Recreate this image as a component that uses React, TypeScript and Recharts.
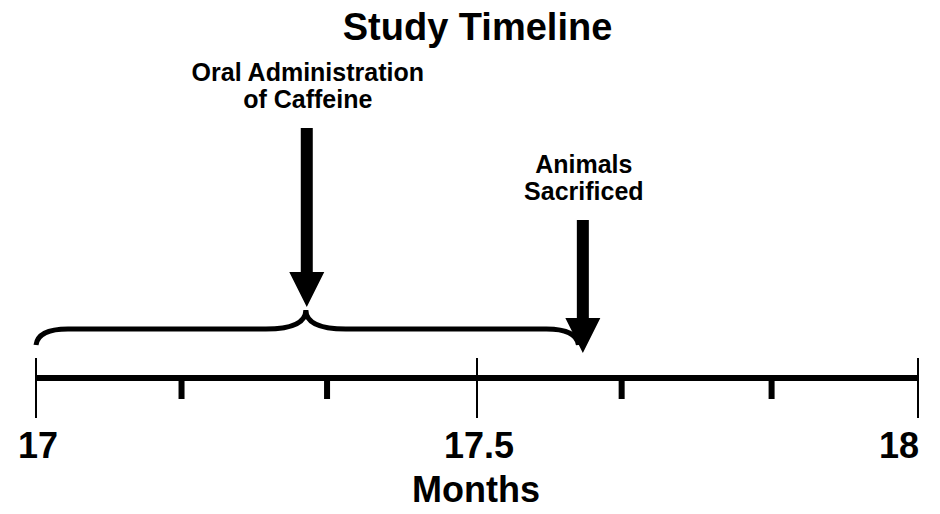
import React from 'react';
import { ComposedChart, XAxis, YAxis, ReferenceLine, ReferenceArea, Scatter } from 'recharts';

// timeline axis (months)
const majorTicks = [17, 17.5, 18];
const minorTicks = [17.165, 17.33, 17.664, 17.834];

// events: month, label lines, arrow top / tip (height above the axis)
const eventMonths = [17.307, 17.62];
const eventLabels = [['Oral Administration', 'of Caffeine'], ['Animals', 'Sacrificed']];
const arrowTops = [250, 158];
const arrowTips = [71, 25];

// brace over the dosing period
const braceStart = 17;
const braceEnd = 17.615;
const braceLow = 33;
const braceHigh = 68;

const FONT = '"Liberation Sans", Arial, sans-serif';

const TimelineTick = (props: any) => {
  const { x, y, payload } = props;
  const v = payload.value;
  if (!majorTicks.includes(v)) {
    return <rect x={x - 3} y={y} width={6} height={21} fill="#000" />;
  }
  const last = v === majorTicks[majorTicks.length - 1];
  return (
    <g>
      <line x1={x} x2={x} y1={y - 20} y2={y + 40} stroke="#000" strokeWidth={2} />
      <text x={last ? x + 1 : x + 2} y={y + 80} textAnchor={last ? 'end' : 'middle'}
        fontFamily={FONT} fontWeight="bold" fontSize={36} fill="#000">{v}</text>
    </g>
  );
};

const Arrow = (props: any) => {
  const { x1, y1, y2, lines } = props;
  const x = x1;
  const hh = 35;
  const d = `M${x - 6},${y1} L${x + 6},${y1} L${x + 6},${y2 - hh} L${x + 17.5},${y2 - hh} L${x},${y2} L${x - 17.5},${y2 - hh} L${x - 6},${y2 - hh} Z`;
  return (
    <g>
      <path d={d} fill="#000" />
      {lines.map((t: string, i: number) => (
        <text key={t} x={x + 1} y={y1 - 20 - (lines.length - 1 - i) * 27} textAnchor="middle"
          fontFamily={FONT} fontWeight="bold" fontSize={25} fill="#000">{t}</text>
      ))}
    </g>
  );
};

const Brace = (props: any) => {
  const { x, y, width, height } = props;
  const left = x;
  const right = x + width;
  const top = y;
  const bottom = y + height;
  const mid = bottom - 16;
  const peak = left + width * 0.4975;
  const d = `M${left},${bottom} Q${left + 2},${mid} ${left + 32},${mid} L${peak - 40},${mid} Q${peak},${mid} ${peak},${top}` +
    ` Q${peak},${mid} ${peak + 40},${mid} L${right - 32},${mid} Q${right - 2},${mid} ${right},${bottom}`;
  return <path d={d} fill="none" stroke="#000" strokeWidth={5} />;
};

const MonthsLabel = (props: any) => {
  const vb = props.viewBox;
  return (
    <text x={vb.x + vb.width / 2 - 1} y={vb.y + 124} textAnchor="middle"
      fontFamily={FONT} fontWeight="bold" fontSize={36} fill="#000">Months</text>
  );
};

const data = eventMonths.map((m, i) => ({ month: m, tip: arrowTips[i] }));

export default function App() {
  return (
    <div style={{ position: 'absolute', left: 0, top: 0, width: 940, height: 514, background: '#fff' }}>
      <div style={{ position: 'absolute', left: 0, top: 8, width: 955, textAlign: 'center', fontFamily: FONT,
        fontWeight: 'bold', fontSize: 38, lineHeight: '38px' }}>Study Timeline</div>
      <ComposedChart width={940} height={514} data={data} margin={{ top: 0, right: 22, bottom: 0, left: 36 }}>
        <XAxis type="number" dataKey="month" domain={[17, 18]} ticks={[...majorTicks, ...minorTicks]}
          interval={0} tickLine={false} tickSize={0} tickMargin={0} height={136}
          axisLine={{ stroke: '#000', strokeWidth: 6 }} tick={<TimelineTick />} label={<MonthsLabel />} />
        <YAxis type="number" dataKey="tip" domain={[0, 378]} allowDataOverflow hide />
        <Scatter dataKey="tip" isAnimationActive={false} shape={() => <g />} />
        <ReferenceArea x1={braceStart} x2={braceEnd} y1={braceLow} y2={braceHigh}
          shape={(p: any) => <Brace {...p} />} ifOverflow="visible" />
        {eventMonths.map((m, i) => (
          <ReferenceLine key={m} segment={[{ x: m, y: arrowTops[i] }, { x: m, y: arrowTips[i] }]}
            shape={(p: any) => <Arrow {...p} lines={eventLabels[i]} />} ifOverflow="visible" />
        ))}
      </ComposedChart>
    </div>
  );
}
